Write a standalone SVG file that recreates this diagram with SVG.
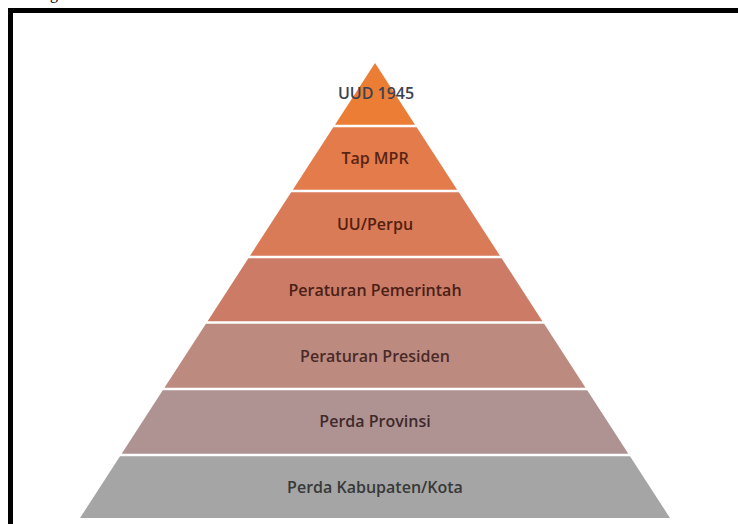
<svg xmlns="http://www.w3.org/2000/svg" width="738" height="524" viewBox="0 0 738 524">
<style>
.lbl{font-family:"Open Sans","Liberation Sans",sans-serif;font-size:16px;font-weight:600;text-anchor:middle}
.frame{fill:none;stroke:#000;stroke-width:5}
</style>
<rect x="0" y="0" width="738" height="524" fill="#fff"/>
<text x="50" y="-1.5" style="font-family:'Liberation Serif',serif;font-size:16px" fill="#000">g</text>
<path class="frame" d="M10.5,530 V10.5 H745"/>
<g id="band1">
<polygon points="375,63 415,124.7 335,124.7" fill="#EC7D35"/>
<text class="lbl" x="376" y="98.5" fill="#3c4250">UUD 1945</text>
</g>
<g id="band2">
<polygon points="333.31,127.3 416.69,127.3 457.15,189.7 292.85,189.7" fill="#E47B4B"/>
<text class="lbl" x="375" y="164" fill="#5a2414">Tap MPR</text>
</g>
<g id="band3">
<polygon points="291.16,192.3 458.84,192.3 499.95,255.7 250.05,255.7" fill="#DA7B58"/>
<text class="lbl" x="375" y="230" fill="#52200f">UU/Perpu</text>
</g>
<g id="band4">
<polygon points="248.37,258.3 501.63,258.3 542.42,321.2 207.58,321.2" fill="#CC7C66"/>
<text class="lbl" x="375" y="295.5" fill="#4a2018">Peraturan Pemerintah</text>
</g>
<g id="band5">
<polygon points="205.9,323.8 544.1,323.8 585.54,387.7 164.46,387.7" fill="#BD8A80"/>
<text class="lbl" x="375" y="361.5" fill="#4a2a28">Peraturan Presiden</text>
</g>
<g id="band6">
<polygon points="162.78,390.3 587.22,390.3 628.33,453.7 121.67,453.7" fill="#AE9392"/>
<text class="lbl" x="375" y="427" fill="#40292a">Perda Provinsi</text>
</g>
<g id="band7">
<polygon points="119.98,456.3 630.02,456.3 670,518 80,518" fill="#A4A5A4"/>
<text class="lbl" x="375" y="492.5" fill="#383838">Perda Kabupaten/Kota</text>
</g>
<g id="connectors"></g>
</svg>
